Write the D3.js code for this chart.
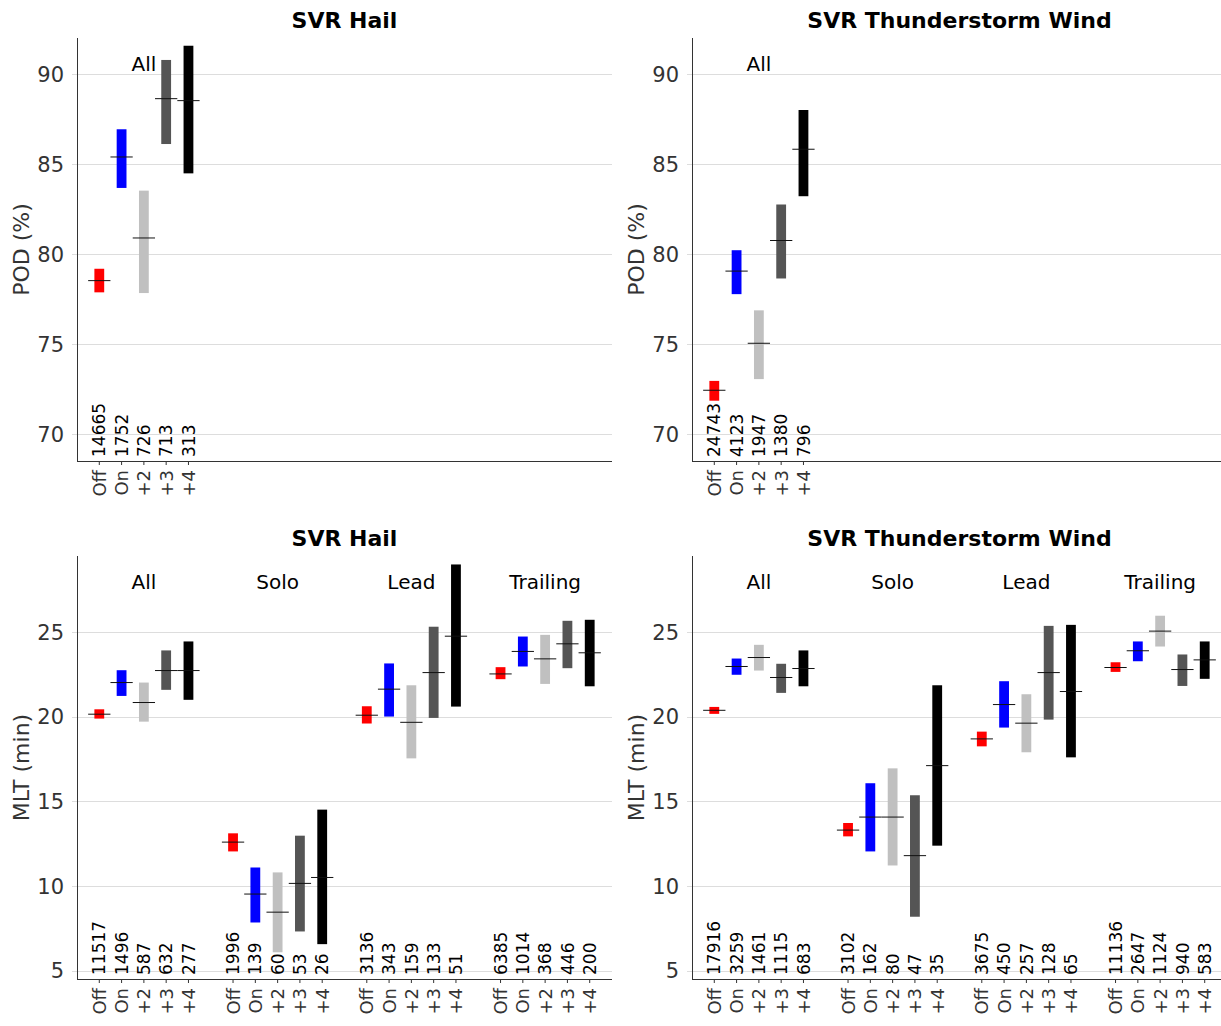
<!DOCTYPE html>
<html>
<head>
<meta charset="utf-8">
<script src="https://d3js.org/d3.v7.min.js"></script>
<style>
  body { margin: 0; background: #fff; }
  svg { display: block; font-family: "DejaVu Sans", sans-serif; }
</style>
</head>
<body>
<div id="chart"></div>
<script>
// categories
var conds = ["Off", "On", "+2", "+3", "+4"];
var groups = ["All", "Solo", "Lead", "Trailing"];
var colors = ["#ff0000", "#0000ff", "#c0c0c0", "#555555", "#000000"];

// POD, hail (one group: All)
var podHailLo  = [77.87, 83.67, 77.83, 86.11, 84.48];
var podHailHi  = [79.18, 86.93, 83.52, 90.78, 91.57];
var podHailMed = [78.52, 85.39, 80.89, 88.63, 88.52];
var podHailN   = [14665, 1752, 726, 713, 313];

// POD, thunderstorm wind
var podWindLo  = [71.85, 77.77, 73.05, 78.64, 83.21];
var podWindHi  = [72.95, 80.21, 76.87, 82.75, 88.00];
var podWindMed = [72.43, 79.05, 75.04, 80.75, 85.82];
var podWindN   = [24743, 4123, 1947, 1380, 796];

// MLT, hail: rows = All, Solo, Lead, Trailing
var mltHailLo  = [[19.89, 21.23, 19.71, 21.59, 21.00], [12.04, 7.84, 6.08, 7.31, 6.56],
                  [19.60, 20.01, 17.54, 19.93, 20.60], [22.22, 22.97, 21.94, 22.87, 21.80]];
var mltHailHi  = [[20.44, 22.75, 22.02, 23.92, 24.45], [13.11, 11.09, 10.80, 12.97, 14.51],
                  [20.62, 23.15, 21.86, 25.32, 29.00], [22.93, 24.74, 24.84, 25.67, 25.73]];
var mltHailMed = [[20.15, 22.02, 20.84, 22.73, 22.73], [12.59, 9.52, 8.45, 10.15, 10.50],
                  [20.09, 21.63, 19.67, 22.61, 24.76], [22.53, 23.86, 23.42, 24.31, 23.78]];
var mltHailN   = [[11517, 1496, 587, 632, 277], [1996, 139, 60, 53, 26],
                  [3136, 343, 159, 133, 51], [6385, 1014, 368, 446, 200]];

// MLT, thunderstorm wind
var mltWindLo  = [[20.17, 22.48, 22.73, 21.41, 21.80], [12.93, 12.04, 11.21, 8.18, 12.38],
                  [18.25, 19.36, 17.90, 19.83, 17.60], [22.65, 23.28, 24.15, 21.82, 22.24]];
var mltWindHi  = [[20.58, 23.44, 24.25, 23.13, 23.92], [13.72, 16.07, 16.95, 15.36, 21.86],
                  [19.12, 22.10, 21.33, 25.37, 25.43], [23.22, 24.45, 25.97, 23.68, 24.45]];
var mltWindMed = [[20.38, 22.97, 23.50, 22.32, 22.85], [13.30, 14.07, 14.07, 11.79, 17.11],
                  [18.69, 20.72, 19.62, 22.61, 21.49], [22.91, 23.90, 25.06, 22.79, 23.36]];
var mltWindN   = [[17916, 3259, 1461, 1115, 683], [3102, 162, 80, 47, 35],
                  [3675, 450, 257, 128, 65], [11136, 2647, 1124, 940, 583]];

var podTicks = [70, 75, 80, 85, 90];
var mltTicks = [5, 10, 15, 20, 25];

var W = 1221, H = 1026;
var svg = d3.select("#chart").append("svg").attr("width", W).attr("height", H);
svg.append("rect").attr("width", W).attr("height", H).attr("fill", "#fff");

var panels = [
  {title: "SVR Hail", ylab: "POD (%)", left: 77, top: 38, dom: [68.5, 92], ticks: podTicks,
   lo: [podHailLo], hi: [podHailHi], med: [podHailMed], n: [podHailN], ng: 1},
  {title: "SVR Thunderstorm Wind", ylab: "POD (%)", left: 692, top: 38, dom: [68.5, 92], ticks: podTicks,
   lo: [podWindLo], hi: [podWindHi], med: [podWindMed], n: [podWindN], ng: 1},
  {title: "SVR Hail", ylab: "MLT (min)", left: 77, top: 556, dom: [4.5, 29.5], ticks: mltTicks,
   lo: mltHailLo, hi: mltHailHi, med: mltHailMed, n: mltHailN, ng: 4},
  {title: "SVR Thunderstorm Wind", ylab: "MLT (min)", left: 692, top: 556, dom: [4.5, 29.5], ticks: mltTicks,
   lo: mltWindLo, hi: mltWindHi, med: mltWindMed, n: mltWindN, ng: 4}
];

var pw = 535, ph = 423;

panels.forEach(function(p) {
  var g = svg.append("g").attr("transform", "translate(" + p.left + "," + p.top + ")");
  var x = d3.scaleLinear().domain([-1, 23]).range([0, pw]);
  var y = d3.scaleLinear().domain(p.dom).range([ph, 0]);

  // grid (with short outward ticks)
  g.selectAll(".grid").data(p.ticks).enter().append("line")
    .attr("x1", -5).attr("x2", pw)
    .attr("y1", function(d) { return Math.round(y(d)) + 0.5; })
    .attr("y2", function(d) { return Math.round(y(d)) + 0.5; })
    .attr("stroke", "#dddddd").attr("stroke-width", 1);

  // y tick labels
  g.selectAll(".ytl").data(p.ticks).enter().append("text")
    .attr("x", -13).attr("y", function(d) { return y(d); })
    .attr("dy", "0.36em").attr("text-anchor", "end")
    .attr("font-size", 21).attr("fill", "#333")
    .text(function(d) { return d; });

  // flatten data
  var items = [];
  for (var gi = 0; gi < p.ng; gi++) {
    for (var i = 0; i < conds.length; i++) {
      items.push({pos: gi * 6 + i, c: i, lo: p.lo[gi][i], hi: p.hi[gi][i], med: p.med[gi][i], n: p.n[gi][i]});
    }
  }

  // bars
  g.selectAll(".bar").data(items).enter().append("rect")
    .attr("x", function(d) { return x(d.pos - 0.22); })
    .attr("width", function(d) { return x(d.pos + 0.22) - x(d.pos - 0.22); })
    .attr("y", function(d) { return y(d.hi); })
    .attr("height", function(d) { return y(d.lo) - y(d.hi); })
    .attr("fill", function(d) { return colors[d.c]; });

  // median lines
  g.selectAll(".med").data(items).enter().append("line")
    .attr("x1", function(d) { return x(d.pos - 0.5); })
    .attr("x2", function(d) { return x(d.pos + 0.5); })
    .attr("y1", function(d) { return y(d.med); })
    .attr("y2", function(d) { return y(d.med); })
    .attr("stroke", "#111").attr("stroke-width", 1);

  // counts
  g.selectAll(".cnt").data(items).enter().append("text")
    .attr("transform", function(d) { return "translate(" + x(d.pos) + "," + (ph - 4) + ") rotate(-90)"; })
    .attr("dy", "0.36em").attr("text-anchor", "start")
    .attr("font-size", 17).attr("fill", "#000")
    .text(function(d) { return d.n; });

  // x ticks + labels
  g.selectAll(".xt").data(items).enter().append("line")
    .attr("x1", function(d) { return x(d.pos); }).attr("x2", function(d) { return x(d.pos); })
    .attr("y1", ph).attr("y2", ph + 4)
    .attr("stroke", "#333");
  g.selectAll(".xtl").data(items).enter().append("text")
    .attr("transform", function(d) { return "translate(" + x(d.pos) + "," + (ph + 9) + ") rotate(-90)"; })
    .attr("dy", "0.36em").attr("text-anchor", "end")
    .attr("font-size", 18).attr("fill", "#333")
    .text(function(d) { return conds[d.c]; });

  // group labels
  g.selectAll(".grp").data(groups.slice(0, p.ng)).enter().append("text")
    .attr("x", function(d, i) { return x(i * 6 + 2); })
    .attr("y", 33).attr("text-anchor", "middle")
    .attr("font-size", 20).attr("fill", "#000")
    .text(function(d) { return d; });

  // spines
  g.append("line").attr("x1", 0.5).attr("x2", 0.5).attr("y1", 0).attr("y2", ph)
    .attr("stroke", "#333").attr("stroke-width", 1);
  g.append("line").attr("x1", 0).attr("x2", pw).attr("y1", ph + 0.5).attr("y2", ph + 0.5)
    .attr("stroke", "#333").attr("stroke-width", 1);

  // title
  g.append("text").attr("x", pw / 2).attr("y", -10).attr("text-anchor", "middle")
    .attr("font-size", 22).attr("font-weight", "bold").attr("fill", "#000")
    .text(p.title);

  // y label
  g.append("text")
    .attr("transform", "translate(-56," + (ph / 2) + ") rotate(-90)")
    .attr("dy", "0.36em").attr("text-anchor", "middle")
    .attr("font-size", 22).attr("fill", "#333")
    .text(p.ylab);
});
</script>
</body>
</html>
